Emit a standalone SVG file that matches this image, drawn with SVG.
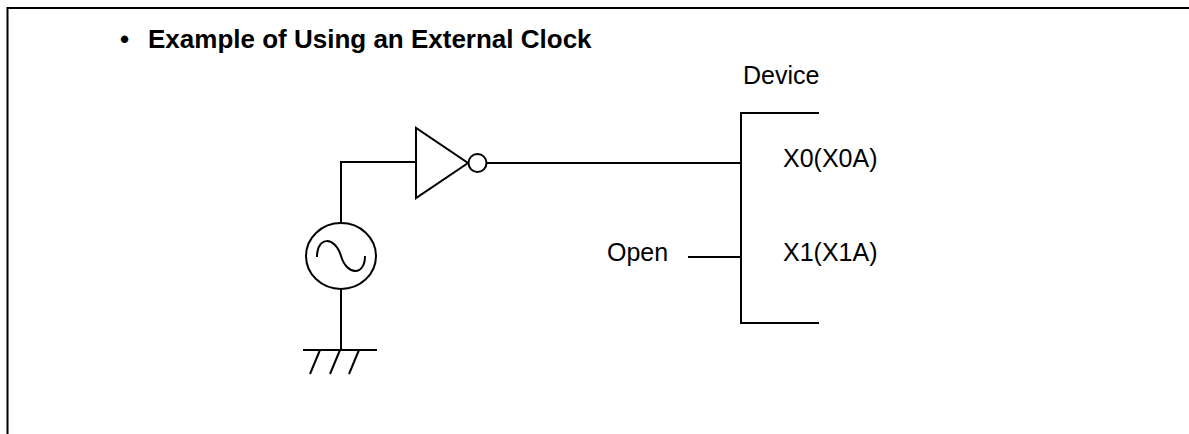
<svg xmlns="http://www.w3.org/2000/svg" width="1189" height="434" viewBox="0 0 1189 434">
<style>
.ln{stroke:#000;stroke-width:2;fill:none}
.t{font-family:"Liberation Sans",Arial,sans-serif;font-size:25px;fill:#000}
.tb{font-family:"Liberation Sans",Arial,sans-serif;font-size:26px;font-weight:bold;fill:#000}
</style>
<rect width="1189" height="434" fill="#fff"/>
<path class="ln" d="M7.5,434 V8 H1189"/>
<g id="title">
<text class="tb" x="120" y="48">•</text>
<text class="tb" x="148" y="48">Example of Using an External Clock</text>
</g>
<g id="oscillator">
<ellipse class="ln" cx="341" cy="256" rx="35" ry="33"/>
<path class="ln" d="M317,257 C317,236 335,236 341,256 C347,276 365,276 365,256"/>
</g>
<g id="ground">
<path class="ln" d="M303,350 H377 M320,350 L310,374 M340,350 L330,374 M359,350 L349,374"/>
</g>
<g id="inverter">
<path class="ln" d="M416,128 V198 L468,163 Z"/>
<circle class="ln" cx="477.5" cy="163" r="9"/>
</g>
<g id="device">
<path class="ln" d="M819,113 H741 V323 H819"/>
<text class="t" x="743" y="84">Device</text>
<text class="t" x="783" y="167">X0(X0A)</text>
<text class="t" x="783" y="261">X1(X1A)</text>
</g>
<g id="open">
<text class="t" x="607" y="261">Open</text>
</g>
<g id="connectors">
<path class="ln" d="M341,223 V162 H416"/>
<path class="ln" d="M341,289 V350"/>
<path class="ln" d="M487,163 H741"/>
<path class="ln" d="M688,257 H741"/>
</g>
</svg>
